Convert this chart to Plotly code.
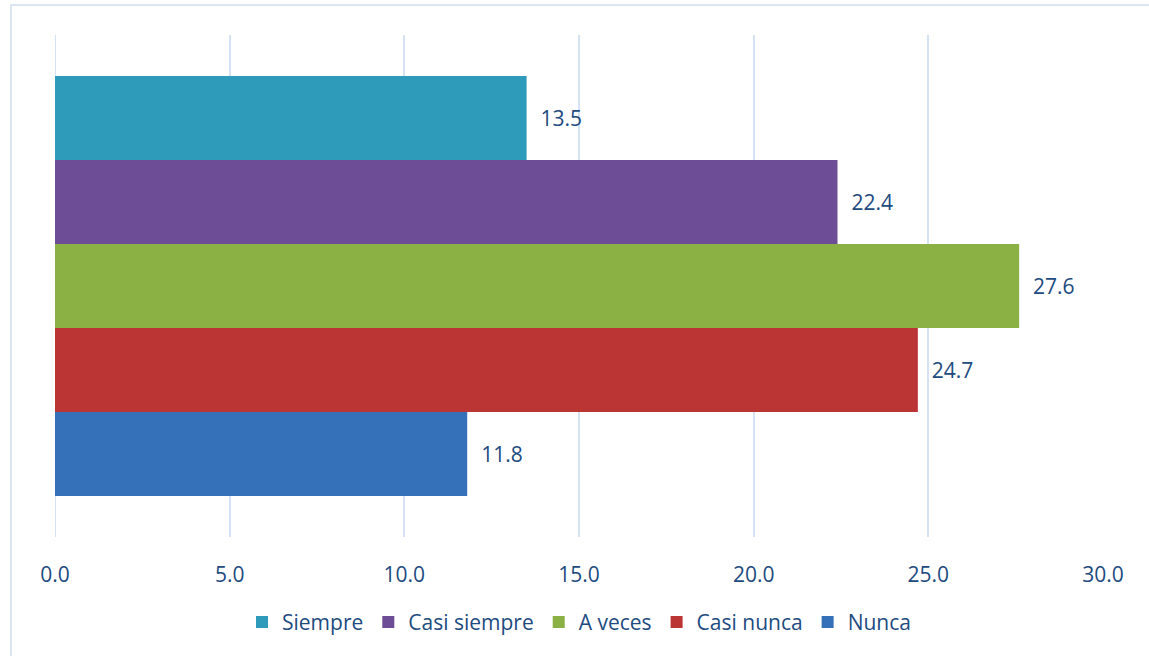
import plotly.graph_objects as go

# Survey frequency distribution (%)
categories = ["Siempre", "Casi siempre", "A veces", "Casi nunca", "Nunca"]
values = [13.5, 22.4, 27.6, 24.7, 11.8]
colors = ["#2E9BBA", "#6D4D95", "#8BB044", "#BA3534", "#3571B8"]
tick_vals = [0, 5, 10, 15, 20, 25, 30]
tick_text = ["0.0", "5.0", "10.0", "15.0", "20.0", "25.0", "30.0"]

text_color = "#214B80"
grid_color = "#D5E2F4"
font_family = "Open Sans, Lato, sans-serif"
font_size = 21

fig = go.Figure()

# Horizontal grouped bars share one category; the first trace sits at the bottom,
# so traces are added from "Nunca" upwards and the legend is reversed.
for name, val, col in reversed(list(zip(categories, values, colors))):
    fig.add_trace(go.Bar(
        y=[""],
        x=[val],
        name=name,
        orientation="h",
        marker=dict(color=col, line=dict(width=0)),
        text=[val],
        texttemplate="\u00a0\u00a0%{x:.1f}",
        textposition="outside",
        cliponaxis=False,
        textfont=dict(color=text_color, size=font_size, family=font_family),
    ))

fig.update_layout(
    width=1149,
    height=656,
    margin=dict(l=55, r=46, t=35, b=119),
    paper_bgcolor="white",
    plot_bgcolor="white",
    barmode="group",
    bargap=0.163,
    bargroupgap=0,
    font=dict(family=font_family, color=text_color, size=font_size),
    showlegend=True,
    legend=dict(
        orientation="h",
        traceorder="reversed",
        x=0.5, xanchor="center",
        y=-0.17, yanchor="middle",
        font=dict(size=font_size, color=text_color, family=font_family),
        itemwidth=30,
    ),
    xaxis=dict(
        range=[0, 30],
        tickvals=tick_vals,
        ticktext=tick_text,
        showgrid=True,
        gridcolor=grid_color,
        gridwidth=2,
        zeroline=False,
        showline=False,
        ticks="outside",
        ticklen=19,
        tickcolor="rgba(0,0,0,0)",
        tickfont=dict(size=font_size, color=text_color, family=font_family),
        fixedrange=True,
    ),
    yaxis=dict(
        showticklabels=False,
        showgrid=False,
        zeroline=False,
        showline=False,
        fixedrange=True,
    ),
    shapes=[
        # chart frame
        dict(type="rect", xref="paper", yref="paper",
             x0=-0.042, x1=1.2, y0=-0.5, y1=1.06,
             line=dict(color="#DCE6F2", width=2), fillcolor="rgba(0,0,0,0)",
             layer="below"),
        # gridline at 0 drawn full height like the others
        dict(type="line", xref="x", yref="paper", x0=0, x1=0, y0=0, y1=1,
             line=dict(color=grid_color, width=2), layer="below"),
    ],
)

fig.write_html("out.html")
